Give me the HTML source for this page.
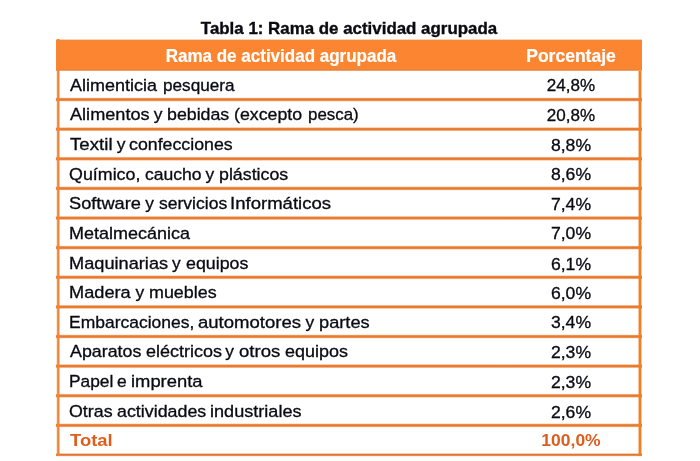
<!DOCTYPE html>
<html><head><meta charset="utf-8"><title>Tabla 1: Rama de actividad agrupada</title>
<style>
html,body{margin:0;padding:0;background:#fff;}
body{width:700px;height:461px;position:relative;overflow:hidden;font-family:"Liberation Sans",sans-serif;}
.a{position:absolute;}
.t{position:absolute;white-space:nowrap;}
.s{-webkit-text-stroke:0.32px currentColor;}
.c{transform:translateX(-50%);}
.h{-webkit-text-stroke:0.2px #fff;font-weight:bold;color:#fff;transform:translateX(-50%) scaleX(0.945);}
.v{transform:translateX(-50%) scaleX(0.95);}
</style></head><body><div style="position:absolute;left:0;top:0;width:700px;height:461px;filter:blur(0.4px);">

<div class="t c" style="left:349.0px;top:21.49px;font-size:16.9px;line-height:16.9px;font-weight:bold;color:#0a0a10;-webkit-text-stroke:0.35px #0a0a10;">Tabla 1: Rama de actividad agrupada</div>
<div class="a" style="left:56px;top:39px;width:586px;height:32px;background:linear-gradient(to bottom,#fbd2b4 0 1px,#ec8a3e 1px 2px,#fc8532 2px 30px,#e9843a 30px 31px,#f0a060 31px 32px);"></div>
<div class="t h" style="left:280.6px;top:46.76px;font-size:18.0px;line-height:18.0px;">Rama de actividad agrupada</div>
<div class="t h" style="left:570.6px;top:46.76px;font-size:18.0px;line-height:18.0px;transform:translateX(-50%) scaleX(0.973);">Porcentaje</div>
<div class="a" style="left:56px;top:97px;width:586px;height:5px;background:linear-gradient(to bottom,rgba(234,120,42,0.095) 0px 1px,rgba(234,120,42,0.805) 1px 2px,rgba(234,120,42,0.999) 2px 3px,rgba(234,120,42,0.861) 3px 4px,rgba(234,120,42,0.139) 4px 5px);"></div>
<div class="a" style="left:56px;top:127px;width:586px;height:4px;background:linear-gradient(to bottom,rgba(234,120,42,0.319) 0px 1px,rgba(234,120,42,0.958) 1px 2px,rgba(234,120,42,0.995) 2px 3px,rgba(234,120,42,0.601) 3px 4px);"></div>
<div class="a" style="left:56px;top:156px;width:586px;height:5px;background:linear-gradient(to bottom,rgba(234,120,42,0.031) 0px 1px,rgba(234,120,42,0.633) 1px 2px,rgba(234,120,42,0.996) 2px 3px,rgba(234,120,42,0.949) 3px 4px,rgba(234,120,42,0.289) 4px 5px);"></div>
<div class="a" style="left:56px;top:186px;width:586px;height:5px;background:linear-gradient(to bottom,rgba(234,120,42,0.160) 0px 1px,rgba(234,120,42,0.880) 1px 2px,rgba(234,120,42,0.999) 2px 3px,rgba(234,120,42,0.780) 3px 4px,rgba(234,120,42,0.080) 4px 5px);"></div>
<div class="a" style="left:56px;top:216px;width:586px;height:4px;background:linear-gradient(to bottom,rgba(234,120,42,0.433) 0px 1px,rgba(234,120,42,0.980) 1px 2px,rgba(234,120,42,0.986) 2px 3px,rgba(234,120,42,0.483) 3px 4px);"></div>
<div class="a" style="left:56px;top:245px;width:586px;height:5px;background:linear-gradient(to bottom,rgba(234,120,42,0.062) 0px 1px,rgba(234,120,42,0.740) 1px 2px,rgba(234,120,42,0.999) 2px 3px,rgba(234,120,42,0.905) 3px 4px,rgba(234,120,42,0.195) 4px 5px);"></div>
<div class="a" style="left:56px;top:275px;width:586px;height:5px;background:linear-gradient(to bottom,rgba(234,120,42,0.246) 0px 1px,rgba(234,120,42,0.932) 1px 2px,rgba(234,120,42,0.997) 2px 3px,rgba(234,120,42,0.681) 3px 4px,rgba(234,120,42,0.042) 4px 5px);"></div>
<div class="a" style="left:56px;top:305px;width:586px;height:4px;background:linear-gradient(to bottom,rgba(234,120,42,0.551) 0px 1px,rgba(234,120,42,0.992) 1px 2px,rgba(234,120,42,0.969) 2px 3px,rgba(234,120,42,0.367) 3px 4px);"></div>
<div class="a" style="left:56px;top:334px;width:586px;height:5px;background:linear-gradient(to bottom,rgba(234,120,42,0.111) 0px 1px,rgba(234,120,42,0.829) 1px 2px,rgba(234,120,42,0.999) 2px 3px,rgba(234,120,42,0.840) 3px 4px,rgba(234,120,42,0.120) 4px 5px);"></div>
<div class="a" style="left:56px;top:364px;width:586px;height:4px;background:linear-gradient(to bottom,rgba(234,120,42,0.351) 0px 1px,rgba(234,120,42,0.966) 1px 2px,rgba(234,120,42,0.993) 2px 3px,rgba(234,120,42,0.567) 3px 4px);"></div>
<div class="a" style="left:56px;top:393px;width:586px;height:5px;background:linear-gradient(to bottom,rgba(234,120,42,0.038) 0px 1px,rgba(234,120,42,0.665) 1px 2px,rgba(234,120,42,0.997) 2px 3px,rgba(234,120,42,0.938) 3px 4px,rgba(234,120,42,0.260) 4px 5px);"></div>
<div class="a" style="left:56px;top:423px;width:586px;height:5px;background:linear-gradient(to bottom,rgba(234,120,42,0.183) 0px 1px,rgba(234,120,42,0.897) 1px 2px,rgba(234,120,42,0.999) 2px 3px,rgba(234,120,42,0.754) 3px 4px,rgba(234,120,42,0.068) 4px 5px);"></div>
<div class="a" style="left:56px;top:453px;width:586px;height:4px;background:linear-gradient(to bottom,rgba(226,110,38,0.335) 0px 1px,rgba(226,110,38,0.962) 1px 2px,rgba(226,110,38,0.805) 2px 3px,rgba(226,110,38,0.095) 3px 4px);"></div>
<div class="a" style="top:39px;left:56px;height:417px;width:4px;background:linear-gradient(to right,rgba(242,132,58,0.195) 0px 1px,rgba(242,132,58,0.905) 1px 2px,rgba(242,132,58,0.988) 2px 3px,rgba(242,132,58,0.500) 3px 4px);"></div>
<div class="a" style="top:71px;left:638px;height:385px;width:4px;background:linear-gradient(to right,rgba(238,126,40,0.458) 0px 1px,rgba(238,126,40,0.984) 1px 2px,rgba(238,126,40,0.984) 2px 3px,rgba(238,126,40,0.458) 3px 4px);"></div>
<div class="t s" style="left:69.60px;top:76.67px;font-size:17.4px;line-height:17.4px;color:#0a0a14;transform-origin:0 0;transform:scaleX(1.0333);">Alimenticia</div>
<div class="t s" style="left:162.72px;top:76.67px;font-size:17.4px;line-height:17.4px;color:#0a0a14;transform-origin:0 0;transform:scaleX(0.9860);">pesquera</div>
<div class="t s" style="left:570.6px;top:77.37px;font-size:17.4px;line-height:17.4px;color:#0a0a14;transform:translateX(-50%) scaleX(0.98);">24,8%</div>
<div class="t s" style="left:69.60px;top:106.29px;font-size:17.4px;line-height:17.4px;color:#0a0a14;transform-origin:0 0;transform:scaleX(1.0422);">Alimentos</div>
<div class="t s" style="left:153.80px;top:106.29px;font-size:17.4px;line-height:17.4px;color:#0a0a14;transform-origin:0 0;transform:scaleX(1.0000);">y</div>
<div class="t s" style="left:167.08px;top:106.29px;font-size:17.4px;line-height:17.4px;color:#0a0a14;transform-origin:0 0;transform:scaleX(1.0220);">bebidas</div>
<div class="t s" style="left:233.98px;top:106.29px;font-size:17.4px;line-height:17.4px;color:#0a0a14;transform-origin:0 0;transform:scaleX(1.0200);">(excepto</div>
<div class="t s" style="left:307.63px;top:106.29px;font-size:17.4px;line-height:17.4px;color:#0a0a14;transform-origin:0 0;transform:scaleX(0.9720);">pesca)</div>
<div class="t s" style="left:570.6px;top:106.99px;font-size:17.4px;line-height:17.4px;color:#0a0a14;transform:translateX(-50%) scaleX(0.98);">20,8%</div>
<div class="t s" style="left:69.57px;top:135.91px;font-size:17.4px;line-height:17.4px;color:#0a0a14;transform-origin:0 0;transform:scaleX(1.0735);">Textil</div>
<div class="t s" style="left:116.80px;top:135.91px;font-size:17.4px;line-height:17.4px;color:#0a0a14;transform-origin:0 0;transform:scaleX(1.0000);">y</div>
<div class="t s" style="left:129.39px;top:135.91px;font-size:17.4px;line-height:17.4px;color:#0a0a14;transform-origin:0 0;transform:scaleX(1.0209);">confecciones</div>
<div class="t s" style="left:570.6px;top:136.61px;font-size:17.4px;line-height:17.4px;color:#0a0a14;transform:translateX(-50%) scaleX(1.012);">8,8%</div>
<div class="t s" style="left:69.48px;top:165.53px;font-size:17.4px;line-height:17.4px;color:#0a0a14;transform-origin:0 0;transform:scaleX(1.0267);">Químico,</div>
<div class="t s" style="left:144.69px;top:165.53px;font-size:17.4px;line-height:17.4px;color:#0a0a14;transform-origin:0 0;transform:scaleX(1.0091);">caucho</div>
<div class="t s" style="left:205.60px;top:165.53px;font-size:17.4px;line-height:17.4px;color:#0a0a14;transform-origin:0 0;transform:scaleX(1.0000);">y</div>
<div class="t s" style="left:219.18px;top:165.53px;font-size:17.4px;line-height:17.4px;color:#0a0a14;transform-origin:0 0;transform:scaleX(1.0227);">plásticos</div>
<div class="t s" style="left:570.6px;top:166.23px;font-size:17.4px;line-height:17.4px;color:#0a0a14;transform:translateX(-50%) scaleX(1.012);">8,6%</div>
<div class="t s" style="left:69.46px;top:195.15px;font-size:17.4px;line-height:17.4px;color:#0a0a14;transform-origin:0 0;transform:scaleX(1.0477);">Software</div>
<div class="t s" style="left:145.20px;top:195.15px;font-size:17.4px;line-height:17.4px;color:#0a0a14;transform-origin:0 0;transform:scaleX(1.0000);">y</div>
<div class="t s" style="left:158.50px;top:195.15px;font-size:17.4px;line-height:17.4px;color:#0a0a14;transform-origin:0 0;transform:scaleX(1.0075);">servicios</div>
<div class="t s" style="left:230.39px;top:195.15px;font-size:17.4px;line-height:17.4px;color:#0a0a14;transform-origin:0 0;transform:scaleX(1.0670);">Informáticos</div>
<div class="t s" style="left:570.6px;top:195.85px;font-size:17.4px;line-height:17.4px;color:#0a0a14;transform:translateX(-50%) scaleX(1.012);">7,4%</div>
<div class="t s" style="left:68.85px;top:224.77px;font-size:17.4px;line-height:17.4px;color:#0a0a14;transform-origin:0 0;transform:scaleX(1.0346);">Metalmecánica</div>
<div class="t s" style="left:570.6px;top:225.47px;font-size:17.4px;line-height:17.4px;color:#0a0a14;transform:translateX(-50%) scaleX(1.012);">7,0%</div>
<div class="t s" style="left:68.84px;top:254.99px;font-size:17.4px;line-height:17.4px;color:#0a0a14;transform-origin:0 0;transform:scaleX(1.0463);">Maquinarias</div>
<div class="t s" style="left:172.00px;top:254.99px;font-size:17.4px;line-height:17.4px;color:#0a0a14;transform-origin:0 0;transform:scaleX(1.0000);">y</div>
<div class="t s" style="left:185.58px;top:254.99px;font-size:17.4px;line-height:17.4px;color:#0a0a14;transform-origin:0 0;transform:scaleX(1.0235);">equipos</div>
<div class="t s" style="left:570.6px;top:255.69px;font-size:17.4px;line-height:17.4px;color:#0a0a14;transform:translateX(-50%) scaleX(1.012);">6,1%</div>
<div class="t s" style="left:68.83px;top:284.01px;font-size:17.4px;line-height:17.4px;color:#0a0a14;transform-origin:0 0;transform:scaleX(1.0469);">Madera</div>
<div class="t s" style="left:135.60px;top:284.01px;font-size:17.4px;line-height:17.4px;color:#0a0a14;transform-origin:0 0;transform:scaleX(1.0000);">y</div>
<div class="t s" style="left:148.57px;top:284.01px;font-size:17.4px;line-height:17.4px;color:#0a0a14;transform-origin:0 0;transform:scaleX(1.0281);">muebles</div>
<div class="t s" style="left:570.6px;top:284.71px;font-size:17.4px;line-height:17.4px;color:#0a0a14;transform:translateX(-50%) scaleX(1.012);">6,0%</div>
<div class="t s" style="left:68.89px;top:313.63px;font-size:17.4px;line-height:17.4px;color:#0a0a14;transform-origin:0 0;transform:scaleX(1.0049);">Embarcaciones,</div>
<div class="t s" style="left:197.95px;top:313.63px;font-size:17.4px;line-height:17.4px;color:#0a0a14;transform-origin:0 0;transform:scaleX(1.0660);">automotores</div>
<div class="t s" style="left:305.50px;top:313.63px;font-size:17.4px;line-height:17.4px;color:#0a0a14;transform-origin:0 0;transform:scaleX(1.0000);">y</div>
<div class="t s" style="left:318.95px;top:313.63px;font-size:17.4px;line-height:17.4px;color:#0a0a14;transform-origin:0 0;transform:scaleX(1.0493);">partes</div>
<div class="t s" style="left:570.6px;top:314.33px;font-size:17.4px;line-height:17.4px;color:#0a0a14;transform:translateX(-50%) scaleX(1.012);">3,4%</div>
<div class="t s" style="left:69.60px;top:343.25px;font-size:17.4px;line-height:17.4px;color:#0a0a14;transform-origin:0 0;transform:scaleX(1.0246);">Aparatos</div>
<div class="t s" style="left:145.58px;top:343.25px;font-size:17.4px;line-height:17.4px;color:#0a0a14;transform-origin:0 0;transform:scaleX(1.0346);">eléctricos</div>
<div class="t s" style="left:225.20px;top:343.25px;font-size:17.4px;line-height:17.4px;color:#0a0a14;transform-origin:0 0;transform:scaleX(1.0000);">y</div>
<div class="t s" style="left:238.65px;top:343.25px;font-size:17.4px;line-height:17.4px;color:#0a0a14;transform-origin:0 0;transform:scaleX(1.0668);">otros</div>
<div class="t s" style="left:284.58px;top:343.25px;font-size:17.4px;line-height:17.4px;color:#0a0a14;transform-origin:0 0;transform:scaleX(1.0319);">equipos</div>
<div class="t s" style="left:570.6px;top:343.95px;font-size:17.4px;line-height:17.4px;color:#0a0a14;transform:translateX(-50%) scaleX(1.012);">2,3%</div>
<div class="t s" style="left:68.90px;top:372.87px;font-size:17.4px;line-height:17.4px;color:#0a0a14;transform-origin:0 0;transform:scaleX(0.9976);">Papel</div>
<div class="t s" style="left:117.00px;top:372.87px;font-size:17.4px;line-height:17.4px;color:#0a0a14;transform-origin:0 0;transform:scaleX(1.0000);">e</div>
<div class="t s" style="left:131.43px;top:372.87px;font-size:17.4px;line-height:17.4px;color:#0a0a14;transform-origin:0 0;transform:scaleX(1.0571);">imprenta</div>
<div class="t s" style="left:570.6px;top:373.57px;font-size:17.4px;line-height:17.4px;color:#0a0a14;transform:translateX(-50%) scaleX(1.012);">2,3%</div>
<div class="t s" style="left:68.78px;top:403.09px;font-size:17.4px;line-height:17.4px;color:#0a0a14;transform-origin:0 0;transform:scaleX(1.0243);">Otras</div>
<div class="t s" style="left:116.98px;top:403.09px;font-size:17.4px;line-height:17.4px;color:#0a0a14;transform-origin:0 0;transform:scaleX(1.0257);">actividades</div>
<div class="t s" style="left:210.35px;top:403.09px;font-size:17.4px;line-height:17.4px;color:#0a0a14;transform-origin:0 0;transform:scaleX(1.0406);">industriales</div>
<div class="t s" style="left:570.6px;top:403.79px;font-size:17.4px;line-height:17.4px;color:#0a0a14;transform:translateX(-50%) scaleX(1.012);">2,6%</div>
<div class="t" style="left:69.6px;top:432.11px;font-size:17.4px;line-height:17.4px;color:#DD5E1C;font-weight:bold;transform-origin:0 0;transform:scaleX(1.0595);">Total</div>
<div class="t" style="left:570.6px;top:432.11px;font-size:17.4px;line-height:17.4px;color:#DD5E1C;font-weight:bold;transform:translateX(-50%) scaleX(1.005);">100,0%</div>
</div></body></html>
